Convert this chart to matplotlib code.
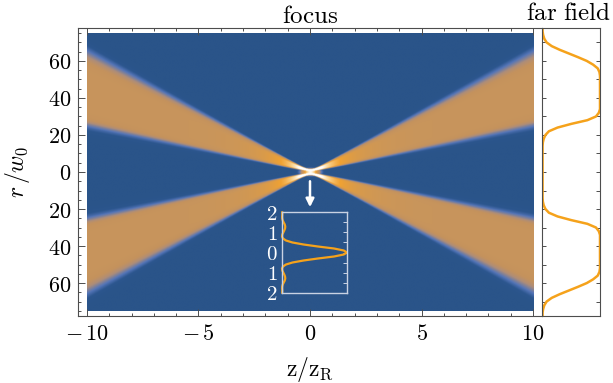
import numpy as np
import matplotlib
matplotlib.use("Agg")
import matplotlib.pyplot as plt
from matplotlib.colors import LinearSegmentedColormap
from matplotlib.ticker import MultipleLocator, FixedLocator, FixedFormatter

plt.rcParams['mathtext.fontset'] = 'cm'
plt.rcParams['font.family'] = ['DejaVu Serif']

# ---------------- data ----------------
# far-field intensity profile (normalised) vs r/w0 at z = 10 z_R (upper half, mirrored)
ff_r = [0, 14, 16, 18, 20, 22, 24, 26, 28, 30, 32, 34, 36, 40, 44, 48, 52,
        54, 56, 58, 60, 62, 64, 66, 68, 70, 72, 74, 76, 78]
ff_I = [0.0, 0.0, 0.005, 0.02, 0.05, 0.11, 0.26, 0.50, 0.78, 0.93, 0.98, 1.0, 1.0,
        1.0, 1.0, 1.0, 1.0, 0.99, 0.96, 0.88, 0.77, 0.62, 0.46, 0.30, 0.16, 0.07,
        0.03, 0.01, 0.0, 0.0]

# focal-plane intensity profile (inset), r in units shown on inset axis
fo_r = [0.0, 0.1, 0.2, 0.3, 0.4, 0.5, 0.6, 0.7, 0.8, 0.9, 1.0, 1.1, 1.2, 1.3,
        1.4, 1.5, 1.6, 1.7, 1.8, 1.9, 2.0]
fo_I = [1.0, 0.95, 0.80, 0.55, 0.33, 0.16, 0.06, 0.015, 0.0, 0.005, 0.02, 0.035,
        0.047, 0.05, 0.042, 0.026, 0.011, 0.003, 0.002, 0.004, 0.003]

z_ticks = [-10, -5, 0, 5, 10]
z_labels = [r'$-\,10$', r'$-\,5$', r'$0$', r'$5$', r'$10$']
r_ticks = [-60, -40, -20, 0, 20, 40, 60]
r_labels = [r'$60$', r'$40$', r'$20$', r'$0$', r'$20$', r'$40$', r'$60$']
in_ticks = [-2, -1, 0, 1, 2]
in_labels = [r'$2$', r'$1$', r'$0$', r'$1$', r'$2$']

# ---------------- derived arrays ----------------
ffr = np.array(ff_r, float)
ffI = np.array(ff_I, float)
ff_r_full = np.concatenate([-ffr[::-1], ffr[1:]])
ff_I_full = np.concatenate([ffI[::-1], ffI[1:]])

for_ = np.array(fo_r, float)
foI = np.array(fo_I, float)
fo_r_full = np.concatenate([-for_[::-1], for_[1:]])
fo_I_full = np.concatenate([foI[::-1], foI[1:]])

# density field: far-field ring mapped through the cone geometry
zg = np.linspace(-10, 10, 801)
rg = np.linspace(-75, 75, 601)
Z, R = np.meshgrid(zg, rg)
s = np.sqrt(Z**2 + 0.25**2) / 10.0
U = np.abs(R) / s
F = np.interp(U, ffr, ffI)
m = 0.36 + 0.9 / (1 + (Z / 0.8)**2)
V = F * m
V = V + 1.0 * np.exp(-(R / 1.5)**2 - (Z / 0.35)**2)
V = np.clip(V, 0, 1)

cmap = LinearSegmentedColormap.from_list('beam', [
    (0.00, '#2a5489'),
    (0.05, '#2c568e'),
    (0.12, '#5475b8'),
    (0.22, '#ae8d78'),
    (0.30, '#c4925d'),
    (0.38, '#c8955c'),
    (0.60, '#f0a232'),
    (0.82, '#fbd89a'),
    (1.00, '#ffffff'),
])

W, H = 613, 383
fig = plt.figure(figsize=(W / 100, H / 100), dpi=100)

def frac(l, t, r, b):
    return [l / W, 1 - b / H, (r - l) / W, (b - t) / H]

frame_c = '#4d4d4d'
orange = '#f5a21b'

# ---------------- main axes ----------------
ax = fig.add_axes(frac(78, 28, 542, 316))
ax.imshow(V, extent=[-10, 10, -75, 75], origin='lower', cmap=cmap, vmin=0, vmax=1,
          aspect='auto', interpolation='bilinear')
ax.set_xlim(-10.4, 10.4)
ax.set_ylim(-77.8, 77.8)
ax.xaxis.set_major_locator(FixedLocator(z_ticks))
ax.xaxis.set_major_formatter(FixedFormatter(z_labels))
ax.xaxis.set_minor_locator(MultipleLocator(1))
ax.yaxis.set_major_locator(FixedLocator(r_ticks))
ax.yaxis.set_major_formatter(FixedFormatter(r_labels))
ax.yaxis.set_minor_locator(MultipleLocator(5))
ax.tick_params(which='both', direction='in', top=True, right=False, colors=frame_c,
               labelcolor='black', labelsize=16, width=0.7)
ax.tick_params(which='major', length=5, pad=5)
ax.tick_params(which='minor', length=2.5)
for sp in ax.spines.values():
    sp.set_color(frame_c)
    sp.set_linewidth(0.8)
ax.spines['right'].set_visible(False)
ax.set_xlabel(r'$\mathrm{z/z_R}$', fontsize=17)
ax.xaxis.set_label_coords(0.5, (316 - 355) / 288, transform=ax.transAxes)
ax.xaxis.label.set_va('top')
ax.set_ylabel(r'$r\,/w_0$', fontsize=17)
ax.yaxis.set_label_coords((18 - 78) / 464, 0.5, transform=ax.transAxes)
ax.yaxis.label.set_va('center')
ax.set_title(r'$\mathrm{focus}$', fontsize=18, pad=3)

# arrow from focus to inset
ax.annotate('', xy=(0, -19), xytext=(0, -5),
            arrowprops=dict(arrowstyle='-|>', color='white', lw=1.8,
                            mutation_scale=12, shrinkA=0, shrinkB=0))

# ---------------- far field panel ----------------
af = fig.add_axes(frac(542, 28, 600, 316))
af.plot(ff_I_full, ff_r_full, color=orange, lw=1.8, clip_on=True)
af.set_xlim(-0.01, 1.0)
af.set_ylim(-77.8, 77.8)
af.set_xticks([])
af.yaxis.set_major_locator(MultipleLocator(10))
af.tick_params(which='both', direction='in', left=True, right=True, labelleft=False,
               colors=frame_c, width=0.7)
af.tick_params(which='major', length=3)
for sp in af.spines.values():
    sp.set_color(frame_c)
    sp.set_linewidth(0.8)
af.text(0.45, 1.012, r'$\mathrm{far\ field}$', transform=af.transAxes,
        fontsize=18, ha='center', va='bottom')

# ---------------- inset ----------------
ai = fig.add_axes(frac(282, 212, 347, 293))
ai.patch.set_alpha(0)
ai.plot(fo_I_full, fo_r_full, color=orange, lw=1.6, clip_on=False)
ai.set_xlim(0, 1)
ai.set_ylim(-2.02, 2.02)
ai.set_xticks([])
ai.yaxis.set_major_locator(FixedLocator(in_ticks))
ai.yaxis.set_major_formatter(FixedFormatter(in_labels))
ai.yaxis.set_minor_locator(MultipleLocator(0.5))
ai.tick_params(which='both', direction='in', left=False, right=True, colors='#c9d2e3',
               labelcolor='white', labelsize=15, width=0.7, pad=3)
ai.tick_params(which='major', length=3)
ai.tick_params(which='minor', length=3)
for sp in ai.spines.values():
    sp.set_color('#c9d2e3')
    sp.set_linewidth(1.0)

fig.savefig('out.png', dpi=100)
